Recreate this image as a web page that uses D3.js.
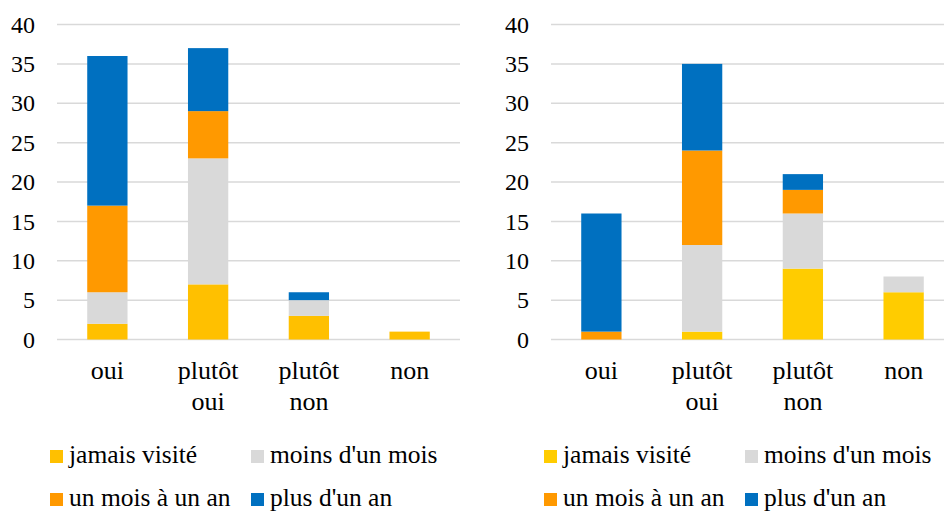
<!DOCTYPE html>
<html>
<head>
<meta charset="utf-8">
<script src="https://cdn.jsdelivr.net/npm/d3@7/dist/d3.min.js"></script>
<style>
  html, body { margin: 0; padding: 0; background: #fff; }
</style>
</head>
<body>
<div id="chart"></div>
<script>
    'use strict';

    const categories = ['oui', 'plutôt oui', 'plutôt non', 'non'];
    const seriesNames = ['jamais visité', "moins d'un mois", 'un mois à un an', "plus d'un an"];
    const yTicks = [0, 5, 10, 15, 20, 25, 30, 35, 40];

    // graphique de gauche
    const leftJamais = [2, 7, 3, 1];
    const leftMoinsMois = [4, 16, 2, 0];
    const leftMoisAn = [11, 6, 0, 0];
    const leftPlusAn = [19, 8, 1, 0];

    // graphique de droite
    const rightJamais = [0, 1, 9, 6];
    const rightMoinsMois = [0, 11, 7, 2];
    const rightMoisAn = [1, 12, 3, 0];
    const rightPlusAn = [15, 11, 2, 0];

    const W = 944, H = 511;
    const FONT = 'Liberation Serif';
    const svg = d3.select('#chart').append('svg').attr('width', W).attr('height', H)
        .attr('font-family', FONT);

    const yScale = d3.scaleLinear().domain([0, 40]).range([339.5, 24.5]);

    function drawChart(x0, x1, series, colors) {
        const g = svg.append('g');

        const xScale = d3.scaleBand().domain(categories).range([x0, x1])
            .paddingInner(0.6).paddingOuter(0.3);

        // lignes de grille
        g.selectAll('.grid').data(yTicks).enter().append('line')
            .attr('x1', x0).attr('x2', Math.min(x1, W))
            .attr('y1', d => yScale(d)).attr('y2', d => yScale(d))
            .attr('stroke', '#d9d9d9').attr('stroke-width', 1.5);

        const yAxis = d3.axisLeft(yScale).tickValues(yTicks).tickSize(0).tickPadding(22);
        g.append('g').attr('transform', 'translate(' + x0 + ',0)').call(yAxis)
            .attr('font-family', FONT).attr('font-size', 24)
            .call(a => a.select('.domain').remove())
            .selectAll('text').attr('fill', '#000');

        const rows = categories.map((c, i) => {
            const r = { cat: c };
            seriesNames.forEach((s, j) => { r[s] = series[j][i]; });
            return r;
        });
        const stacked = d3.stack().keys(seriesNames)(rows);

        g.selectAll('.serie').data(stacked).enter().append('g')
            .attr('fill', (d, i) => colors[i])
            .selectAll('rect').data(d => d).enter().append('rect')
            .attr('x', d => xScale(d.data.cat))
            .attr('width', xScale.bandwidth())
            .attr('y', d => yScale(d[1]))
            .attr('height', d => yScale(d[0]) - yScale(d[1]));

        // étiquettes de catégories
        const labels = g.selectAll('.xlab').data(categories).enter().append('text')
            .attr('text-anchor', 'middle')
            .attr('x', d => xScale(d) + xScale.bandwidth() / 2)
            .attr('y', 379)
            .attr('font-family', FONT).attr('font-size', 26).attr('fill', '#000');
        labels.each(function (d) {
            const words = d.split(' ');
            const t = d3.select(this);
            words.forEach((w, i) => {
                t.append('tspan').attr('x', t.attr('x')).attr('dy', i === 0 ? 0 : 31).text(w);
            });
        });

        // légende
        const lx = x0 - 7;
        const legend = g.selectAll('.leg').data(seriesNames).enter().append('g')
            .attr('transform', (d, i) => 'translate(' + (lx + (i % 2) * 201) + ',' + (450 + Math.floor(i / 2) * 43) + ')');
        legend.append('rect').attr('width', 13).attr('height', 13).attr('fill', (d, i) => colors[i]);
        legend.append('text').attr('x', 19).attr('y', 13)
            .attr('font-family', FONT).attr('font-size', 25.5).attr('fill', '#000')
            .text(d => d);
    }

    drawChart(57, 460, [leftJamais, leftMoinsMois, leftMoisAn, leftPlusAn],
        ['#ffc000', '#d9d9d9', '#ff9900', '#0070c0']);
    drawChart(551, 954, [rightJamais, rightMoinsMois, rightMoisAn, rightPlusAn],
        ['#ffcc00', '#d9d9d9', '#ff9900', '#0070c0']);
</script>
</body>
</html>
